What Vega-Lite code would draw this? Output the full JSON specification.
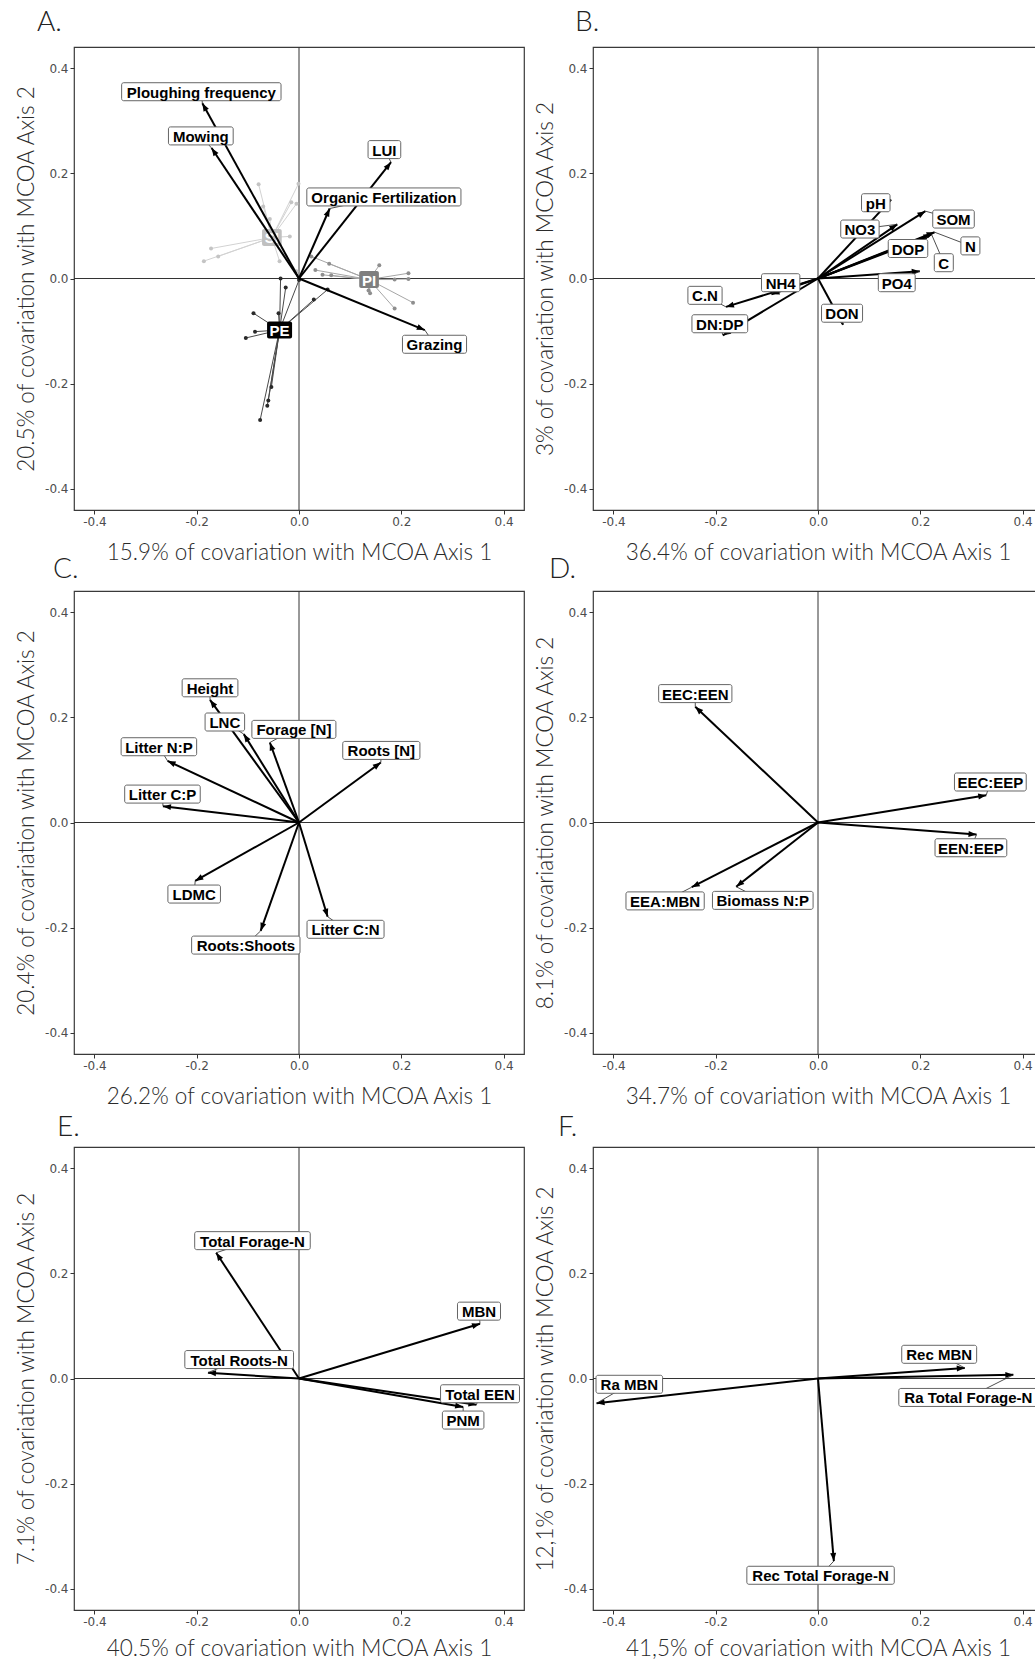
{
"$schema": "https://vega.github.io/schema/vega-lite/v6.json",
"padding": {"left": 14, "top": 7, "right": 0, "bottom": 0},
"spacing": -11,
"vconcat": [
{"spacing": 7, "hconcat": [
{"title": {"text": "A.", "dx": -37}, "width": 450, "height": 463,
 "data": {"name": "vars"},
 "transform": [{"filter": "datum.panel == 'A'"}, {"calculate": "0", "as": "o"},
  {"calculate": "atan2(datum.x*511, datum.y*526)*180/PI", "as": "ang"},
  {"calculate": "8.34*length(datum.label) - 4.17*length(replace(datum.label, regexp('[^iljI .]','g'), '')) - 3.14*length(replace(datum.label, regexp('[^tfr:[\\\\]-]','g'), '')) + 4.66*length(replace(datum.label, regexp('[^mMW]','g'), '')) + 2.66*length(replace(datum.label, regexp('[^GOQwABCDHKNRU]','g'), '')) + 1.16*length(replace(datum.label, regexp('[^EPSVXYbdghnopquFLTZ]','g'), '')) + 8", "as": "w"},
  {"calculate": "datum.lx - datum.w/1022", "as": "bx1"}, {"calculate": "datum.lx + datum.w/1022", "as": "bx2"},
  {"calculate": "datum.ly - 9/526", "as": "by1"}, {"calculate": "datum.ly + 9/526", "as": "by2"}],
 "layer": [
  {"data": {"values": [{}]}, "mark": {"type": "rule", "color": "#333", "strokeWidth": 1},
   "encoding": {"x": {"datum": 0, "type": "quantitative", "scale": {"domain": [-0.44, 0.44], "nice": false, "zero": false}, "axis": {"title": "15.9% of covariation with MCOA Axis 1", "values": [-0.4, -0.2, 0, 0.2, 0.4], "labelExpr": "(datum.value < 0 ? '-' : '') + format(abs(datum.value), '.1f')"}}}},
  {"data": {"values": [{}]}, "mark": {"type": "rule", "color": "#333", "strokeWidth": 1},
   "encoding": {"y": {"datum": 0, "type": "quantitative", "scale": {"domain": [-0.44, 0.44], "nice": false, "zero": false}, "axis": {"title": "20.5% of covariation with MCOA Axis 2", "values": [-0.4, -0.2, 0, 0.2, 0.4], "labelExpr": "(datum.value < 0 ? '-' : '') + format(abs(datum.value), '.1f')"}}}},
  {"data": {"name": "sites"}, "transform": [{"lookup": "group", "from": {"data": {"name": "groups"}, "key": "group", "fields": ["x", "y"]}, "as": ["cx", "cy"]}],
   "mark": {"type": "rule", "strokeWidth": 1},
   "encoding": {"x": {"field": "x", "type": "quantitative", "scale": {"domain": [-0.44, 0.44], "nice": false, "zero": false}}, "x2": {"field": "cx"},
    "y": {"field": "y", "type": "quantitative", "scale": {"domain": [-0.44, 0.44], "nice": false, "zero": false}}, "y2": {"field": "cy"},
    "stroke": {"field": "group", "type": "nominal", "scale": {"domain": ["SI", "PI", "PE"], "range": ["#d2d2d2", "#a6a6a6", "#4a4a4a"]}, "legend": null}}},
  {"data": {"name": "sites"}, "mark": {"type": "point", "filled": true, "size": 16, "opacity": 1},
   "encoding": {"x": {"field": "x", "type": "quantitative", "scale": {"domain": [-0.44, 0.44], "nice": false, "zero": false}},
    "y": {"field": "y", "type": "quantitative", "scale": {"domain": [-0.44, 0.44], "nice": false, "zero": false}},
    "color": {"field": "group", "type": "nominal", "scale": {"domain": ["SI", "PI", "PE"], "range": ["#c4c4c4", "#8e8e8e", "#2a2a2a"]}, "legend": null}}},
  {"data": {"name": "groups"},
   "transform": [{"calculate": "8.34*length(datum.group) - 4.17*length(replace(datum.group, regexp('[^iljI .]','g'), '')) + 1.16*length(replace(datum.group, regexp('[^EPSVXYbdghnopquFLTZ]','g'), '')) + 6", "as": "w"},
    {"calculate": "datum.x - datum.w/1022", "as": "bx1"}, {"calculate": "datum.x + datum.w/1022", "as": "bx2"},
    {"calculate": "datum.y - 8.5/526", "as": "by1"}, {"calculate": "datum.y + 8.5/526", "as": "by2"}],
   "mark": {"type": "rect", "cornerRadius": 2},
   "encoding": {"x": {"field": "bx1", "type": "quantitative", "scale": {"domain": [-0.44, 0.44], "nice": false, "zero": false}}, "x2": {"field": "bx2"},
    "y": {"field": "by1", "type": "quantitative", "scale": {"domain": [-0.44, 0.44], "nice": false, "zero": false}}, "y2": {"field": "by2"},
    "fill": {"field": "group", "type": "nominal", "scale": {"domain": ["SI", "PI", "PE"], "range": ["#c0c0c0", "#7f7f7f", "#000000"]}, "legend": null}}},
  {"data": {"name": "groups"}, "mark": {"type": "text", "font": "Liberation Sans", "fontWeight": "bold", "fontSize": 15, "color": "#ffffff", "baseline": "middle", "align": "center", "dy": 1},
   "encoding": {"x": {"field": "x", "type": "quantitative", "scale": {"domain": [-0.44, 0.44], "nice": false, "zero": false}},
    "y": {"field": "y", "type": "quantitative", "scale": {"domain": [-0.44, 0.44], "nice": false, "zero": false}}, "text": {"field": "group"}}},
  {"mark": {"type": "rule", "color": "#000", "strokeWidth": 2},
   "encoding": {"x": {"field": "o", "type": "quantitative", "scale": {"domain": [-0.44, 0.44], "nice": false, "zero": false}}, "x2": {"field": "x"},
    "y": {"field": "o", "type": "quantitative", "scale": {"domain": [-0.44, 0.44], "nice": false, "zero": false}}, "y2": {"field": "y"}}},
  {"mark": {"type": "point", "shape": "M0,0L-0.75,2L0.75,2Z", "filled": true, "color": "#000", "size": 64, "opacity": 1},
   "encoding": {"x": {"field": "x", "type": "quantitative", "scale": {"domain": [-0.44, 0.44], "nice": false, "zero": false}},
    "y": {"field": "y", "type": "quantitative", "scale": {"domain": [-0.44, 0.44], "nice": false, "zero": false}},
    "angle": {"field": "ang", "type": "quantitative", "scale": null}}},
  {"mark": {"type": "rule", "color": "#222", "strokeWidth": 0.8},
   "encoding": {"x": {"field": "lx", "type": "quantitative", "scale": {"domain": [-0.44, 0.44], "nice": false, "zero": false}}, "x2": {"field": "x"},
    "y": {"field": "ly", "type": "quantitative", "scale": {"domain": [-0.44, 0.44], "nice": false, "zero": false}}, "y2": {"field": "y"}}},
  {"mark": {"type": "rect", "fill": "#ffffff", "stroke": "#666", "strokeWidth": 1, "cornerRadius": 2},
   "encoding": {"x": {"field": "bx1", "type": "quantitative", "scale": {"domain": [-0.44, 0.44], "nice": false, "zero": false}}, "x2": {"field": "bx2"},
    "y": {"field": "by1", "type": "quantitative", "scale": {"domain": [-0.44, 0.44], "nice": false, "zero": false}}, "y2": {"field": "by2"}}},
  {"mark": {"type": "text", "font": "Liberation Sans", "fontWeight": "bold", "fontSize": 15, "color": "#000", "baseline": "middle", "align": "center", "dy": 1},
   "encoding": {"x": {"field": "lx", "type": "quantitative", "scale": {"domain": [-0.44, 0.44], "nice": false, "zero": false}},
    "y": {"field": "ly", "type": "quantitative", "scale": {"domain": [-0.44, 0.44], "nice": false, "zero": false}}, "text": {"field": "label"}}}
 ]},
{"title": {"text": "B.", "dx": -18}, "width": 450, "height": 463,
 "data": {"name": "vars"},
 "transform": [{"filter": "datum.panel == 'B'"}, {"calculate": "0", "as": "o"},
  {"calculate": "atan2(datum.x*511, datum.y*526)*180/PI", "as": "ang"},
  {"calculate": "8.34*length(datum.label) - 4.17*length(replace(datum.label, regexp('[^iljI .]','g'), '')) - 3.14*length(replace(datum.label, regexp('[^tfr:[\\\\]-]','g'), '')) + 4.66*length(replace(datum.label, regexp('[^mMW]','g'), '')) + 2.66*length(replace(datum.label, regexp('[^GOQwABCDHKNRU]','g'), '')) + 1.16*length(replace(datum.label, regexp('[^EPSVXYbdghnopquFLTZ]','g'), '')) + 8", "as": "w"},
  {"calculate": "datum.lx - datum.w/1022", "as": "bx1"}, {"calculate": "datum.lx + datum.w/1022", "as": "bx2"},
  {"calculate": "datum.ly - 9/526", "as": "by1"}, {"calculate": "datum.ly + 9/526", "as": "by2"}],
 "layer": [
  {"data": {"values": [{}]}, "mark": {"type": "rule", "color": "#333", "strokeWidth": 1},
   "encoding": {"x": {"datum": 0, "type": "quantitative", "scale": {"domain": [-0.44, 0.44], "nice": false, "zero": false}, "axis": {"title": "36.4% of covariation with MCOA Axis 1", "values": [-0.4, -0.2, 0, 0.2, 0.4], "labelExpr": "(datum.value < 0 ? '-' : '') + format(abs(datum.value), '.1f')"}}}},
  {"data": {"values": [{}]}, "mark": {"type": "rule", "color": "#333", "strokeWidth": 1},
   "encoding": {"y": {"datum": 0, "type": "quantitative", "scale": {"domain": [-0.44, 0.44], "nice": false, "zero": false}, "axis": {"title": "3% of covariation with MCOA Axis 2", "values": [-0.4, -0.2, 0, 0.2, 0.4], "labelExpr": "(datum.value < 0 ? '-' : '') + format(abs(datum.value), '.1f')"}}}},
  {"mark": {"type": "rule", "color": "#000", "strokeWidth": 2},
   "encoding": {"x": {"field": "o", "type": "quantitative", "scale": {"domain": [-0.44, 0.44], "nice": false, "zero": false}}, "x2": {"field": "x"},
    "y": {"field": "o", "type": "quantitative", "scale": {"domain": [-0.44, 0.44], "nice": false, "zero": false}}, "y2": {"field": "y"}}},
  {"mark": {"type": "point", "shape": "M0,0L-0.75,2L0.75,2Z", "filled": true, "color": "#000", "size": 64, "opacity": 1},
   "encoding": {"x": {"field": "x", "type": "quantitative", "scale": {"domain": [-0.44, 0.44], "nice": false, "zero": false}},
    "y": {"field": "y", "type": "quantitative", "scale": {"domain": [-0.44, 0.44], "nice": false, "zero": false}},
    "angle": {"field": "ang", "type": "quantitative", "scale": null}}},
  {"mark": {"type": "rule", "color": "#222", "strokeWidth": 0.8},
   "encoding": {"x": {"field": "lx", "type": "quantitative", "scale": {"domain": [-0.44, 0.44], "nice": false, "zero": false}}, "x2": {"field": "x"},
    "y": {"field": "ly", "type": "quantitative", "scale": {"domain": [-0.44, 0.44], "nice": false, "zero": false}}, "y2": {"field": "y"}}},
  {"mark": {"type": "rect", "fill": "#ffffff", "stroke": "#666", "strokeWidth": 1, "cornerRadius": 2},
   "encoding": {"x": {"field": "bx1", "type": "quantitative", "scale": {"domain": [-0.44, 0.44], "nice": false, "zero": false}}, "x2": {"field": "bx2"},
    "y": {"field": "by1", "type": "quantitative", "scale": {"domain": [-0.44, 0.44], "nice": false, "zero": false}}, "y2": {"field": "by2"}}},
  {"mark": {"type": "text", "font": "Liberation Sans", "fontWeight": "bold", "fontSize": 15, "color": "#000", "baseline": "middle", "align": "center", "dy": 1},
   "encoding": {"x": {"field": "lx", "type": "quantitative", "scale": {"domain": [-0.44, 0.44], "nice": false, "zero": false}},
    "y": {"field": "ly", "type": "quantitative", "scale": {"domain": [-0.44, 0.44], "nice": false, "zero": false}}, "text": {"field": "label"}}}
 ]}
]},
{"spacing": 3, "vconcat": [
{"spacing": 7, "hconcat": [
{"title": {"text": "C.", "dx": -21, "offset": 7}, "width": 450, "height": 463,
 "data": {"name": "vars"},
 "transform": [{"filter": "datum.panel == 'C'"}, {"calculate": "0", "as": "o"},
  {"calculate": "atan2(datum.x*511, datum.y*526)*180/PI", "as": "ang"},
  {"calculate": "8.34*length(datum.label) - 4.17*length(replace(datum.label, regexp('[^iljI .]','g'), '')) - 3.14*length(replace(datum.label, regexp('[^tfr:[\\\\]-]','g'), '')) + 4.66*length(replace(datum.label, regexp('[^mMW]','g'), '')) + 2.66*length(replace(datum.label, regexp('[^GOQwABCDHKNRU]','g'), '')) + 1.16*length(replace(datum.label, regexp('[^EPSVXYbdghnopquFLTZ]','g'), '')) + 8", "as": "w"},
  {"calculate": "datum.lx - datum.w/1022", "as": "bx1"}, {"calculate": "datum.lx + datum.w/1022", "as": "bx2"},
  {"calculate": "datum.ly - 9/526", "as": "by1"}, {"calculate": "datum.ly + 9/526", "as": "by2"}],
 "layer": [
  {"data": {"values": [{}]}, "mark": {"type": "rule", "color": "#333", "strokeWidth": 1},
   "encoding": {"x": {"datum": 0, "type": "quantitative", "scale": {"domain": [-0.44, 0.44], "nice": false, "zero": false}, "axis": {"title": "26.2% of covariation with MCOA Axis 1", "values": [-0.4, -0.2, 0, 0.2, 0.4], "labelExpr": "(datum.value < 0 ? '-' : '') + format(abs(datum.value), '.1f')"}}}},
  {"data": {"values": [{}]}, "mark": {"type": "rule", "color": "#333", "strokeWidth": 1},
   "encoding": {"y": {"datum": 0, "type": "quantitative", "scale": {"domain": [-0.44, 0.44], "nice": false, "zero": false}, "axis": {"title": "20.4% of covariation with MCOA Axis 2", "values": [-0.4, -0.2, 0, 0.2, 0.4], "labelExpr": "(datum.value < 0 ? '-' : '') + format(abs(datum.value), '.1f')"}}}},
  {"mark": {"type": "rule", "color": "#000", "strokeWidth": 2},
   "encoding": {"x": {"field": "o", "type": "quantitative", "scale": {"domain": [-0.44, 0.44], "nice": false, "zero": false}}, "x2": {"field": "x"},
    "y": {"field": "o", "type": "quantitative", "scale": {"domain": [-0.44, 0.44], "nice": false, "zero": false}}, "y2": {"field": "y"}}},
  {"mark": {"type": "point", "shape": "M0,0L-0.75,2L0.75,2Z", "filled": true, "color": "#000", "size": 64, "opacity": 1},
   "encoding": {"x": {"field": "x", "type": "quantitative", "scale": {"domain": [-0.44, 0.44], "nice": false, "zero": false}},
    "y": {"field": "y", "type": "quantitative", "scale": {"domain": [-0.44, 0.44], "nice": false, "zero": false}},
    "angle": {"field": "ang", "type": "quantitative", "scale": null}}},
  {"mark": {"type": "rule", "color": "#222", "strokeWidth": 0.8},
   "encoding": {"x": {"field": "lx", "type": "quantitative", "scale": {"domain": [-0.44, 0.44], "nice": false, "zero": false}}, "x2": {"field": "x"},
    "y": {"field": "ly", "type": "quantitative", "scale": {"domain": [-0.44, 0.44], "nice": false, "zero": false}}, "y2": {"field": "y"}}},
  {"mark": {"type": "rect", "fill": "#ffffff", "stroke": "#666", "strokeWidth": 1, "cornerRadius": 2},
   "encoding": {"x": {"field": "bx1", "type": "quantitative", "scale": {"domain": [-0.44, 0.44], "nice": false, "zero": false}}, "x2": {"field": "bx2"},
    "y": {"field": "by1", "type": "quantitative", "scale": {"domain": [-0.44, 0.44], "nice": false, "zero": false}}, "y2": {"field": "by2"}}},
  {"mark": {"type": "text", "font": "Liberation Sans", "fontWeight": "bold", "fontSize": 15, "color": "#000", "baseline": "middle", "align": "center", "dy": 1},
   "encoding": {"x": {"field": "lx", "type": "quantitative", "scale": {"domain": [-0.44, 0.44], "nice": false, "zero": false}},
    "y": {"field": "ly", "type": "quantitative", "scale": {"domain": [-0.44, 0.44], "nice": false, "zero": false}}, "text": {"field": "label"}}}
 ]},
{"title": {"text": "D.", "dx": -44, "offset": 7}, "width": 450, "height": 463,
 "data": {"name": "vars"},
 "transform": [{"filter": "datum.panel == 'D'"}, {"calculate": "0", "as": "o"},
  {"calculate": "atan2(datum.x*511, datum.y*526)*180/PI", "as": "ang"},
  {"calculate": "8.34*length(datum.label) - 4.17*length(replace(datum.label, regexp('[^iljI .]','g'), '')) - 3.14*length(replace(datum.label, regexp('[^tfr:[\\\\]-]','g'), '')) + 4.66*length(replace(datum.label, regexp('[^mMW]','g'), '')) + 2.66*length(replace(datum.label, regexp('[^GOQwABCDHKNRU]','g'), '')) + 1.16*length(replace(datum.label, regexp('[^EPSVXYbdghnopquFLTZ]','g'), '')) + 8", "as": "w"},
  {"calculate": "datum.lx - datum.w/1022", "as": "bx1"}, {"calculate": "datum.lx + datum.w/1022", "as": "bx2"},
  {"calculate": "datum.ly - 9/526", "as": "by1"}, {"calculate": "datum.ly + 9/526", "as": "by2"}],
 "layer": [
  {"data": {"values": [{}]}, "mark": {"type": "rule", "color": "#333", "strokeWidth": 1},
   "encoding": {"x": {"datum": 0, "type": "quantitative", "scale": {"domain": [-0.44, 0.44], "nice": false, "zero": false}, "axis": {"title": "34.7% of covariation with MCOA Axis 1", "values": [-0.4, -0.2, 0, 0.2, 0.4], "labelExpr": "(datum.value < 0 ? '-' : '') + format(abs(datum.value), '.1f')"}}}},
  {"data": {"values": [{}]}, "mark": {"type": "rule", "color": "#333", "strokeWidth": 1},
   "encoding": {"y": {"datum": 0, "type": "quantitative", "scale": {"domain": [-0.44, 0.44], "nice": false, "zero": false}, "axis": {"title": "8.1% of covariation with MCOA Axis 2", "values": [-0.4, -0.2, 0, 0.2, 0.4], "labelExpr": "(datum.value < 0 ? '-' : '') + format(abs(datum.value), '.1f')"}}}},
  {"mark": {"type": "rule", "color": "#000", "strokeWidth": 2},
   "encoding": {"x": {"field": "o", "type": "quantitative", "scale": {"domain": [-0.44, 0.44], "nice": false, "zero": false}}, "x2": {"field": "x"},
    "y": {"field": "o", "type": "quantitative", "scale": {"domain": [-0.44, 0.44], "nice": false, "zero": false}}, "y2": {"field": "y"}}},
  {"mark": {"type": "point", "shape": "M0,0L-0.75,2L0.75,2Z", "filled": true, "color": "#000", "size": 64, "opacity": 1},
   "encoding": {"x": {"field": "x", "type": "quantitative", "scale": {"domain": [-0.44, 0.44], "nice": false, "zero": false}},
    "y": {"field": "y", "type": "quantitative", "scale": {"domain": [-0.44, 0.44], "nice": false, "zero": false}},
    "angle": {"field": "ang", "type": "quantitative", "scale": null}}},
  {"mark": {"type": "rule", "color": "#222", "strokeWidth": 0.8},
   "encoding": {"x": {"field": "lx", "type": "quantitative", "scale": {"domain": [-0.44, 0.44], "nice": false, "zero": false}}, "x2": {"field": "x"},
    "y": {"field": "ly", "type": "quantitative", "scale": {"domain": [-0.44, 0.44], "nice": false, "zero": false}}, "y2": {"field": "y"}}},
  {"mark": {"type": "rect", "fill": "#ffffff", "stroke": "#666", "strokeWidth": 1, "cornerRadius": 2},
   "encoding": {"x": {"field": "bx1", "type": "quantitative", "scale": {"domain": [-0.44, 0.44], "nice": false, "zero": false}}, "x2": {"field": "bx2"},
    "y": {"field": "by1", "type": "quantitative", "scale": {"domain": [-0.44, 0.44], "nice": false, "zero": false}}, "y2": {"field": "by2"}}},
  {"mark": {"type": "text", "font": "Liberation Sans", "fontWeight": "bold", "fontSize": 15, "color": "#000", "baseline": "middle", "align": "center", "dy": 1},
   "encoding": {"x": {"field": "lx", "type": "quantitative", "scale": {"domain": [-0.44, 0.44], "nice": false, "zero": false}},
    "y": {"field": "ly", "type": "quantitative", "scale": {"domain": [-0.44, 0.44], "nice": false, "zero": false}}, "text": {"field": "label"}}}
 ]}
]},
{"spacing": 7, "hconcat": [
{"title": {"text": "E.", "dx": -17, "offset": 5}, "width": 450, "height": 463,
 "data": {"name": "vars"},
 "transform": [{"filter": "datum.panel == 'E'"}, {"calculate": "0", "as": "o"},
  {"calculate": "atan2(datum.x*511, datum.y*526)*180/PI", "as": "ang"},
  {"calculate": "8.34*length(datum.label) - 4.17*length(replace(datum.label, regexp('[^iljI .]','g'), '')) - 3.14*length(replace(datum.label, regexp('[^tfr:[\\\\]-]','g'), '')) + 4.66*length(replace(datum.label, regexp('[^mMW]','g'), '')) + 2.66*length(replace(datum.label, regexp('[^GOQwABCDHKNRU]','g'), '')) + 1.16*length(replace(datum.label, regexp('[^EPSVXYbdghnopquFLTZ]','g'), '')) + 8", "as": "w"},
  {"calculate": "datum.lx - datum.w/1022", "as": "bx1"}, {"calculate": "datum.lx + datum.w/1022", "as": "bx2"},
  {"calculate": "datum.ly - 9/526", "as": "by1"}, {"calculate": "datum.ly + 9/526", "as": "by2"}],
 "layer": [
  {"data": {"values": [{}]}, "mark": {"type": "rule", "color": "#333", "strokeWidth": 1},
   "encoding": {"x": {"datum": 0, "type": "quantitative", "scale": {"domain": [-0.44, 0.44], "nice": false, "zero": false}, "axis": {"title": "40.5% of covariation with MCOA Axis 1", "titlePadding": 10, "values": [-0.4, -0.2, 0, 0.2, 0.4], "labelExpr": "(datum.value < 0 ? '-' : '') + format(abs(datum.value), '.1f')"}}}},
  {"data": {"values": [{}]}, "mark": {"type": "rule", "color": "#333", "strokeWidth": 1},
   "encoding": {"y": {"datum": 0, "type": "quantitative", "scale": {"domain": [-0.44, 0.44], "nice": false, "zero": false}, "axis": {"title": "7.1% of covariation with MCOA Axis 2", "values": [-0.4, -0.2, 0, 0.2, 0.4], "labelExpr": "(datum.value < 0 ? '-' : '') + format(abs(datum.value), '.1f')"}}}},
  {"mark": {"type": "rule", "color": "#000", "strokeWidth": 2},
   "encoding": {"x": {"field": "o", "type": "quantitative", "scale": {"domain": [-0.44, 0.44], "nice": false, "zero": false}}, "x2": {"field": "x"},
    "y": {"field": "o", "type": "quantitative", "scale": {"domain": [-0.44, 0.44], "nice": false, "zero": false}}, "y2": {"field": "y"}}},
  {"mark": {"type": "point", "shape": "M0,0L-0.75,2L0.75,2Z", "filled": true, "color": "#000", "size": 64, "opacity": 1},
   "encoding": {"x": {"field": "x", "type": "quantitative", "scale": {"domain": [-0.44, 0.44], "nice": false, "zero": false}},
    "y": {"field": "y", "type": "quantitative", "scale": {"domain": [-0.44, 0.44], "nice": false, "zero": false}},
    "angle": {"field": "ang", "type": "quantitative", "scale": null}}},
  {"mark": {"type": "rule", "color": "#222", "strokeWidth": 0.8},
   "encoding": {"x": {"field": "lx", "type": "quantitative", "scale": {"domain": [-0.44, 0.44], "nice": false, "zero": false}}, "x2": {"field": "x"},
    "y": {"field": "ly", "type": "quantitative", "scale": {"domain": [-0.44, 0.44], "nice": false, "zero": false}}, "y2": {"field": "y"}}},
  {"mark": {"type": "rect", "fill": "#ffffff", "stroke": "#666", "strokeWidth": 1, "cornerRadius": 2},
   "encoding": {"x": {"field": "bx1", "type": "quantitative", "scale": {"domain": [-0.44, 0.44], "nice": false, "zero": false}}, "x2": {"field": "bx2"},
    "y": {"field": "by1", "type": "quantitative", "scale": {"domain": [-0.44, 0.44], "nice": false, "zero": false}}, "y2": {"field": "by2"}}},
  {"mark": {"type": "text", "font": "Liberation Sans", "fontWeight": "bold", "fontSize": 15, "color": "#000", "baseline": "middle", "align": "center", "dy": 1},
   "encoding": {"x": {"field": "lx", "type": "quantitative", "scale": {"domain": [-0.44, 0.44], "nice": false, "zero": false}},
    "y": {"field": "ly", "type": "quantitative", "scale": {"domain": [-0.44, 0.44], "nice": false, "zero": false}}, "text": {"field": "label"}}}
 ]},
{"title": {"text": "F.", "dx": -35, "offset": 5}, "width": 450, "height": 463,
 "data": {"name": "vars"},
 "transform": [{"filter": "datum.panel == 'F'"}, {"calculate": "0", "as": "o"},
  {"calculate": "atan2(datum.x*511, datum.y*526)*180/PI", "as": "ang"},
  {"calculate": "8.34*length(datum.label) - 4.17*length(replace(datum.label, regexp('[^iljI .]','g'), '')) - 3.14*length(replace(datum.label, regexp('[^tfr:[\\\\]-]','g'), '')) + 4.66*length(replace(datum.label, regexp('[^mMW]','g'), '')) + 2.66*length(replace(datum.label, regexp('[^GOQwABCDHKNRU]','g'), '')) + 1.16*length(replace(datum.label, regexp('[^EPSVXYbdghnopquFLTZ]','g'), '')) + 8", "as": "w"},
  {"calculate": "datum.lx - datum.w/1022", "as": "bx1"}, {"calculate": "datum.lx + datum.w/1022", "as": "bx2"},
  {"calculate": "datum.ly - 9/526", "as": "by1"}, {"calculate": "datum.ly + 9/526", "as": "by2"}],
 "layer": [
  {"data": {"values": [{}]}, "mark": {"type": "rule", "color": "#333", "strokeWidth": 1},
   "encoding": {"x": {"datum": 0, "type": "quantitative", "scale": {"domain": [-0.44, 0.44], "nice": false, "zero": false}, "axis": {"title": "41,5% of covariation with MCOA Axis 1", "titlePadding": 10, "values": [-0.4, -0.2, 0, 0.2, 0.4], "labelExpr": "(datum.value < 0 ? '-' : '') + format(abs(datum.value), '.1f')"}}}},
  {"data": {"values": [{}]}, "mark": {"type": "rule", "color": "#333", "strokeWidth": 1},
   "encoding": {"y": {"datum": 0, "type": "quantitative", "scale": {"domain": [-0.44, 0.44], "nice": false, "zero": false}, "axis": {"title": "12,1% of covariation with MCOA Axis 2", "values": [-0.4, -0.2, 0, 0.2, 0.4], "labelExpr": "(datum.value < 0 ? '-' : '') + format(abs(datum.value), '.1f')"}}}},
  {"mark": {"type": "rule", "color": "#000", "strokeWidth": 2},
   "encoding": {"x": {"field": "o", "type": "quantitative", "scale": {"domain": [-0.44, 0.44], "nice": false, "zero": false}}, "x2": {"field": "x"},
    "y": {"field": "o", "type": "quantitative", "scale": {"domain": [-0.44, 0.44], "nice": false, "zero": false}}, "y2": {"field": "y"}}},
  {"mark": {"type": "point", "shape": "M0,0L-0.75,2L0.75,2Z", "filled": true, "color": "#000", "size": 64, "opacity": 1},
   "encoding": {"x": {"field": "x", "type": "quantitative", "scale": {"domain": [-0.44, 0.44], "nice": false, "zero": false}},
    "y": {"field": "y", "type": "quantitative", "scale": {"domain": [-0.44, 0.44], "nice": false, "zero": false}},
    "angle": {"field": "ang", "type": "quantitative", "scale": null}}},
  {"mark": {"type": "rule", "color": "#222", "strokeWidth": 0.8},
   "encoding": {"x": {"field": "lx", "type": "quantitative", "scale": {"domain": [-0.44, 0.44], "nice": false, "zero": false}}, "x2": {"field": "x"},
    "y": {"field": "ly", "type": "quantitative", "scale": {"domain": [-0.44, 0.44], "nice": false, "zero": false}}, "y2": {"field": "y"}}},
  {"mark": {"type": "rect", "fill": "#ffffff", "stroke": "#666", "strokeWidth": 1, "cornerRadius": 2},
   "encoding": {"x": {"field": "bx1", "type": "quantitative", "scale": {"domain": [-0.44, 0.44], "nice": false, "zero": false}}, "x2": {"field": "bx2"},
    "y": {"field": "by1", "type": "quantitative", "scale": {"domain": [-0.44, 0.44], "nice": false, "zero": false}}, "y2": {"field": "by2"}}},
  {"mark": {"type": "text", "font": "Liberation Sans", "fontWeight": "bold", "fontSize": 15, "color": "#000", "baseline": "middle", "align": "center", "dy": 1},
   "encoding": {"x": {"field": "lx", "type": "quantitative", "scale": {"domain": [-0.44, 0.44], "nice": false, "zero": false}},
    "y": {"field": "ly", "type": "quantitative", "scale": {"domain": [-0.44, 0.44], "nice": false, "zero": false}}, "text": {"field": "label"}}}
 ]}
]}
]}
],
"datasets": {
"vars": [
{"panel": "A", "label": "Ploughing frequency", "x": -0.189, "y": 0.333, "lx": -0.191, "ly": 0.355},
{"panel": "A", "label": "Mowing", "x": -0.171, "y": 0.248, "lx": -0.192, "ly": 0.271},
{"panel": "A", "label": "LUI", "x": 0.180, "y": 0.221, "lx": 0.167, "ly": 0.245},
{"panel": "A", "label": "Organic Fertilization", "x": 0.060, "y": 0.133, "lx": 0.166, "ly": 0.155},
{"panel": "A", "label": "Grazing", "x": 0.246, "y": -0.098, "lx": 0.265, "ly": -0.125},
{"panel": "B", "label": "pH", "x": 0.143, "y": 0.150, "lx": 0.113, "ly": 0.144},
{"panel": "B", "label": "SOM", "x": 0.210, "y": 0.128, "lx": 0.265, "ly": 0.113},
{"panel": "B", "label": "NO3", "x": 0.155, "y": 0.103, "lx": 0.082, "ly": 0.094},
{"panel": "B", "label": "N", "x": 0.228, "y": 0.088, "lx": 0.298, "ly": 0.062},
{"panel": "B", "label": "C", "x": 0.222, "y": 0.084, "lx": 0.246, "ly": 0.030},
{"panel": "B", "label": "DOP", "x": 0.215, "y": 0.079, "lx": 0.176, "ly": 0.057},
{"panel": "B", "label": "PO4", "x": 0.199, "y": 0.014, "lx": 0.154, "ly": -0.008},
{"panel": "B", "label": "DON", "x": 0.049, "y": -0.088, "lx": 0.047, "ly": -0.066},
{"panel": "B", "label": "NH4", "x": -0.091, "y": -0.030, "lx": -0.073, "ly": -0.008},
{"panel": "B", "label": "C.N", "x": -0.180, "y": -0.054, "lx": -0.221, "ly": -0.032},
{"panel": "B", "label": "DN:DP", "x": -0.186, "y": -0.108, "lx": -0.192, "ly": -0.086},
{"panel": "C", "label": "Height", "x": -0.174, "y": 0.233, "lx": -0.174, "ly": 0.256},
{"panel": "C", "label": "LNC", "x": -0.108, "y": 0.168, "lx": -0.145, "ly": 0.191},
{"panel": "C", "label": "Forage [N]", "x": -0.057, "y": 0.152, "lx": -0.010, "ly": 0.177},
{"panel": "C", "label": "Roots [N]", "x": 0.160, "y": 0.114, "lx": 0.161, "ly": 0.137},
{"panel": "C", "label": "Litter N:P", "x": -0.257, "y": 0.117, "lx": -0.274, "ly": 0.144},
{"panel": "C", "label": "Litter C:P", "x": -0.266, "y": 0.031, "lx": -0.267, "ly": 0.054},
{"panel": "C", "label": "LDMC", "x": -0.203, "y": -0.111, "lx": -0.205, "ly": -0.136},
{"panel": "C", "label": "Roots:Shoots", "x": -0.075, "y": -0.206, "lx": -0.104, "ly": -0.233},
{"panel": "C", "label": "Litter C:N", "x": 0.056, "y": -0.179, "lx": 0.091, "ly": -0.203},
{"panel": "D", "label": "EEC:EEN", "x": -0.240, "y": 0.220, "lx": -0.240, "ly": 0.245},
{"panel": "D", "label": "EEC:EEP", "x": 0.329, "y": 0.052, "lx": 0.337, "ly": 0.077},
{"panel": "D", "label": "EEN:EEP", "x": 0.310, "y": -0.023, "lx": 0.299, "ly": -0.048},
{"panel": "D", "label": "EEA:MBN", "x": -0.247, "y": -0.123, "lx": -0.299, "ly": -0.149},
{"panel": "D", "label": "Biomass N:P", "x": -0.160, "y": -0.122, "lx": -0.108, "ly": -0.148},
{"panel": "E", "label": "Total Forage-N", "x": -0.162, "y": 0.239, "lx": -0.091, "ly": 0.262},
{"panel": "E", "label": "Total Roots-N", "x": -0.178, "y": 0.011, "lx": -0.117, "ly": 0.036},
{"panel": "E", "label": "MBN", "x": 0.354, "y": 0.104, "lx": 0.352, "ly": 0.128},
{"panel": "E", "label": "Total EEN", "x": 0.347, "y": -0.050, "lx": 0.354, "ly": -0.029},
{"panel": "E", "label": "PNM", "x": 0.321, "y": -0.054, "lx": 0.321, "ly": -0.079},
{"panel": "F", "label": "Rec MBN", "x": 0.287, "y": 0.020, "lx": 0.237, "ly": 0.046},
{"panel": "F", "label": "Ra Total Forage-N", "x": 0.382, "y": 0.007, "lx": 0.294, "ly": -0.036},
{"panel": "F", "label": "Ra MBN", "x": -0.433, "y": -0.047, "lx": -0.369, "ly": -0.011},
{"panel": "F", "label": "Rec Total Forage-N", "x": 0.031, "y": -0.347, "lx": 0.005, "ly": -0.374}
],
"groups": [
{"group": "SI", "x": -0.053, "y": 0.078},
{"group": "PI", "x": 0.137, "y": -0.002},
{"group": "PE", "x": -0.038, "y": -0.098}
],
"sites": [
{"group": "SI", "x": -0.079, "y": 0.179}, {"group": "SI", "x": -0.001, "y": 0.180}, {"group": "SI", "x": -0.015, "y": 0.145},
{"group": "SI", "x": -0.005, "y": 0.142}, {"group": "SI", "x": -0.070, "y": 0.137}, {"group": "SI", "x": -0.057, "y": 0.113},
{"group": "SI", "x": -0.018, "y": 0.080}, {"group": "SI", "x": -0.172, "y": 0.057}, {"group": "SI", "x": -0.158, "y": 0.042},
{"group": "SI", "x": -0.186, "y": 0.033}, {"group": "SI", "x": -0.038, "y": 0.033}, {"group": "SI", "x": -0.005, "y": 0.014},
{"group": "PI", "x": 0.157, "y": 0.025}, {"group": "PI", "x": 0.214, "y": 0.010}, {"group": "PI", "x": 0.214, "y": -0.001},
{"group": "PI", "x": 0.187, "y": -0.002}, {"group": "PI", "x": 0.223, "y": -0.046}, {"group": "PI", "x": 0.187, "y": -0.057},
{"group": "PI", "x": 0.136, "y": -0.023}, {"group": "PI", "x": 0.139, "y": -0.028}, {"group": "PI", "x": 0.059, "y": 0.028},
{"group": "PI", "x": 0.032, "y": 0.016}, {"group": "PI", "x": 0.063, "y": 0.006}, {"group": "PI", "x": 0.046, "y": 0.007},
{"group": "PI", "x": 0.024, "y": 0.042},
{"group": "PE", "x": -0.036, "y": 0.000}, {"group": "PE", "x": -0.026, "y": -0.017}, {"group": "PE", "x": -0.040, "y": -0.066},
{"group": "PE", "x": -0.089, "y": -0.066}, {"group": "PE", "x": -0.086, "y": -0.101}, {"group": "PE", "x": -0.104, "y": -0.113},
{"group": "PE", "x": -0.054, "y": -0.206}, {"group": "PE", "x": -0.060, "y": -0.232}, {"group": "PE", "x": -0.062, "y": -0.242},
{"group": "PE", "x": -0.076, "y": -0.269}, {"group": "PE", "x": 0.029, "y": -0.040}, {"group": "PE", "x": 0.056, "y": -0.021},
{"group": "PE", "x": 0.000, "y": -0.003}
]
},
"config": {
"font": "Liberation Sans",
"view": {"stroke": "#3a3a3a", "strokeWidth": 1.2},
"axis": {"grid": false, "domain": false, "tickColor": "#333", "tickSize": 4, "tickWidth": 1, "labelFont": "DejaVu Sans", "labelFontSize": 12, "labelColor": "#4d4d4d", "labelPadding": 2, "titleFont": "Lato", "titleFontSize": 22.5, "titleFontWeight": 300, "titleColor": "#2b2b2b"},
"axisX": {"titlePadding": 14},
"axisY": {"titlePadding": 6},
"title": {"font": "Lato", "fontSize": 28, "fontWeight": 300, "anchor": "start", "frame": "group", "color": "#222", "offset": 10}
}
}
